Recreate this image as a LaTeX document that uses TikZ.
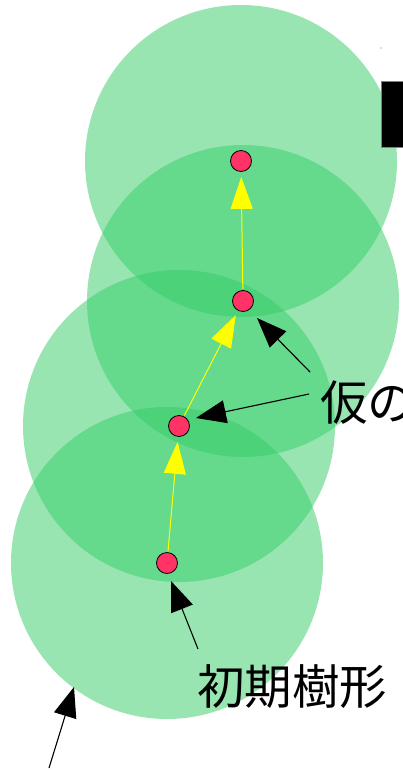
\documentclass[tikz,border=0pt]{standalone}
\usepackage{fontspec}
\newfontfamily\jpfont{Noto Sans CJK JP}
\usetikzlibrary{arrows.meta}
\definecolor{zone}{HTML}{33CC66}
\definecolor{dotred}{HTML}{FF3366}
\definecolor{arrowyellow}{HTML}{FFFF00}
\tikzset{
  zonecircle/.style={fill=zone, fill opacity=0.5, draw=none},
  treedot/.style={circle, fill=dotred, draw=black, line width=0.8pt, minimum size=21pt, inner sep=0pt},
  growarrow/.style={draw=arrowyellow, line width=1pt, -{Triangle[length=32pt,width=22pt]}, shorten >=5pt, shorten <=1pt},
  pointer/.style={draw=black, line width=1.1pt, -{Triangle[length=30pt,width=23pt]}},
  label/.style={font=\jpfont\fontsize{47.5}{52}\selectfont, inner sep=0pt, text=black}
}
\begin{document}
\begin{tikzpicture}[x=1pt,y=-1pt]
\useasboundingbox (0,0) rectangle (403,770);
\clip (0,0) rectangle (403,770);
% translucent circles
\fill[zonecircle] (241,161) circle (156);
\fill[zonecircle] (243,301) circle (156);
\fill[zonecircle] (179,426) circle (156);
\fill[zonecircle] (167,563) circle (156);
% small marks top right
\fill[black!60] (381,48) circle (0.7);
\draw[fill=black, draw=black!50, line width=0.6pt] (381,81) rectangle (405,147);
% tree nodes
\node[treedot] (n1) at (241,161) {};
\node[treedot] (n2) at (243,301) {};
\node[treedot] (n3) at (179,426) {};
\node[treedot] (n4) at (167,563) {};
% growth arrows
\draw[growarrow] (n4) -- (n3);
\draw[growarrow] (n3) -- (n2);
\draw[growarrow] (n2) -- (n1);
% labels
\node[label, anchor=west] (tmp) at (320,403) {仮の};
\node[label, anchor=west] (init) at (197,687) {初期樹形};
% pointer arrows
\coordinate (s1) at (310,372);
\coordinate (t1) at (257,318);
\coordinate (s2) at (309,394);
\coordinate (t2) at (196,418);
\coordinate (s3) at (198,649);
\coordinate (t3) at (171,581);
\coordinate (s4) at (49,768);
\coordinate (t4) at (74,687);
\draw[pointer] (s1) -- (t1);
\draw[pointer] (s2) -- (t2);
\draw[pointer] (s3) -- (t3);
\draw[pointer] (s4) -- (t4);
\end{tikzpicture}
\end{document}
